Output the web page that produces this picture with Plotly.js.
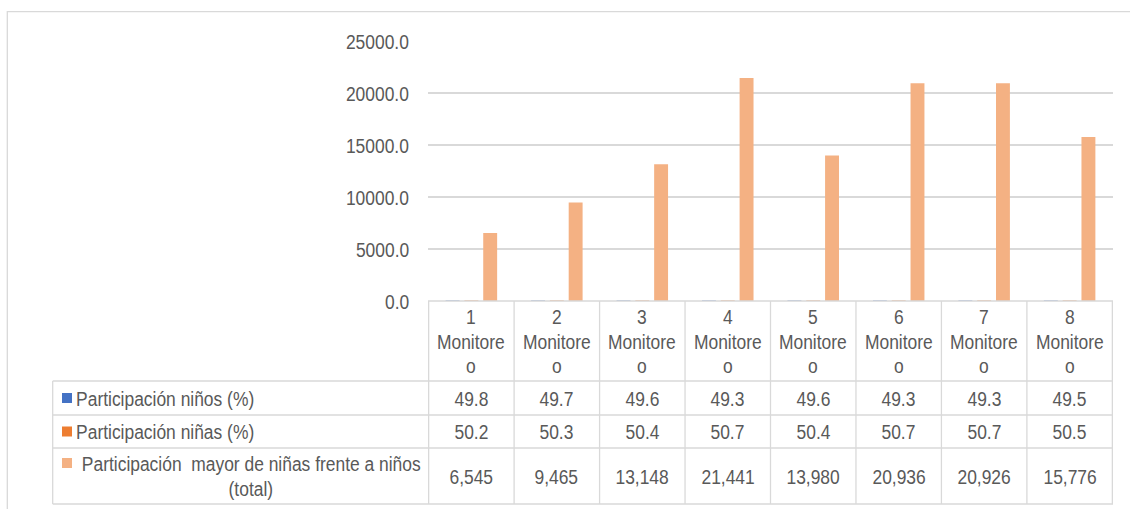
<!DOCTYPE html>
<html>
<head>
<meta charset="utf-8">
<script src="https://cdn.plot.ly/plotly-3.0.1.min.js"></script>
<style>html,body{margin:0;padding:0;background:#fff}#chart{width:1130px;height:509px}</style>
</head>
<body>
<div id="chart"></div>
<script>
const categories = ['1 Monitoreo','2 Monitoreo','3 Monitoreo','4 Monitoreo','5 Monitoreo','6 Monitoreo','7 Monitoreo','8 Monitoreo'];
const ninos = [49.8, 49.7, 49.6, 49.3, 49.6, 49.3, 49.3, 49.5];
const ninas = [50.2, 50.3, 50.4, 50.7, 50.4, 50.7, 50.7, 50.5];
const total = [6545, 9465, 13148, 21441, 13980, 20936, 20926, 15776];
const seriesNames = ['Participación niños (%)', 'Participación niñas (%)', 'Participación  mayor de niñas frente a niños (total)'];
const yTicks = [0, 5000, 10000, 15000, 20000, 25000];

const W = 1130, H = 509;
const colors = ['#4472C4', '#ED7D31', '#F4B183'];
const FONT = '"Liberation Sans", Arial, sans-serif';
const FS = 21;
const SQUISH = 0.83;
const TXT = '#595959';
const LINE = '#d9d9d9';
const px = v => v / W;
const py = v => 1 - v / H;

const plotL = 428, plotR = 1113, plotT = 41, plotB = 301;
const rowY = [381, 415, 448, 504];
const legL = 52.7;

const traces = [ninos, ninas, total].map((vals, i) => ({
  type: 'bar', x: categories, y: vals, name: seriesNames[i],
  marker: {color: colors[i]}, hoverinfo: 'skip', showlegend: false
}));

const shapes = [];
const annotations = [];
// outer chart border
shapes.push({type:'rect', xref:'paper', yref:'paper', x0:px(7.3), x1:1.02, y0:-0.02, y1:py(11.7), line:{color:LINE, width:1.3}});
// horizontal table lines
shapes.push({type:'line', xref:'paper', yref:'paper', x0:px(plotL), x1:px(plotR), y0:py(plotB), y1:py(plotB), line:{color:LINE, width:1.3}});
rowY.forEach(yv => shapes.push({type:'line', xref:'paper', yref:'paper', x0:px(legL), x1:px(plotR), y0:py(yv), y1:py(yv), line:{color:LINE, width:1.3}}));
// vertical table lines
for (let i = 0; i <= categories.length; i++) {
  shapes.push({type:'line', xref:'x', yref:'paper', x0:i-0.5, x1:i-0.5, y0:py(plotB), y1:py(rowY[3]), line:{color:LINE, width:1.3}});
}
shapes.push({type:'line', xref:'paper', yref:'paper', x0:px(legL), x1:px(legL), y0:py(rowY[0]), y1:py(rowY[3]), line:{color:LINE, width:1.3}});

const font = {family: FONT, size: FS, color: TXT};
// y tick labels
yTicks.forEach(v => {
  annotations.push({xref:'paper', yref:'y', x:px(411), y:v, text:v.toFixed(1), showarrow:false, xanchor:'right', yanchor:'middle', font});
});
// header cells
const headerLines = c => { const [n, w] = c.split(' '); return [n, w.slice(0, 8), w.slice(8)]; };
const headY = [316, 341, 365];
categories.forEach((c, i) => {
  headerLines(c).forEach((t, k) => {
    annotations.push({xref:'x', yref:'paper', x:i, y:py(headY[k]), text:t, showarrow:false, xanchor:'center', yanchor:'middle', font});
  });
});
// data rows
const rowVals = [ninos.map(v => v.toFixed(1)), ninas.map(v => v.toFixed(1)), total.map(v => v.toLocaleString('en-US'))];
rowVals.forEach((vals, r) => {
  const yc = (rowY[r] + rowY[r + 1]) / 2;
  vals.forEach((t, i) => {
    annotations.push({xref:'x', yref:'paper', x:i, y:py(yc), text:t, showarrow:false, xanchor:'center', yanchor:'middle', font});
  });
});
// legend cells
[0, 1].forEach(r => {
  const yc = (rowY[r] + rowY[r + 1]) / 2;
  shapes.push({type:'rect', xref:'paper', yref:'paper', x0:px(62), x1:px(72), y0:py(yc + 5), y1:py(yc - 5), fillcolor:colors[r], line:{width:0}});
  annotations.push({xref:'paper', yref:'paper', x:px(74), y:py(yc), text:seriesNames[r], showarrow:false, xanchor:'left', yanchor:'middle', font});
});
{
  const name = seriesNames[2];
  const cut = name.indexOf(' (total)');
  shapes.push({type:'rect', xref:'paper', yref:'paper', x0:px(62), x1:px(72), y0:py(468), y1:py(458), fillcolor:colors[2], line:{width:0}});
  annotations.push({xref:'paper', yref:'paper', x:px(251), y:py(463), text:name.slice(0, cut), showarrow:false, xanchor:'center', yanchor:'middle', font});
  annotations.push({xref:'paper', yref:'paper', x:px(251), y:py(488), text:name.slice(cut + 1), showarrow:false, xanchor:'center', yanchor:'middle', font});
}

const layout = {
  width: W, height: H,
  margin: {l:0, r:0, t:0, b:0},
  paper_bgcolor: '#fff', plot_bgcolor: '#fff',
  barmode: 'group', bargap: 0.34, bargroupgap: 0.26,
  xaxis: {domain:[px(plotL), px(plotR)], type:'category', showticklabels:false, showgrid:false, zeroline:false, showline:false, fixedrange:true},
  yaxis: {domain:[py(plotB), py(plotT)], range:[0, 25000], tickvals:yTicks, showticklabels:false, showgrid:true, gridcolor:LINE, gridwidth:1.3,
          zeroline:false, showline:false, ticks:'', fixedrange:true},
  shapes, annotations, showlegend:false
};
Plotly.newPlot('chart', traces, layout, {staticPlot:true, displayModeBar:false}).then(gd => {
  const anns = gd._fullLayout.annotations;
  gd.querySelectorAll('.annotation').forEach(g => {
    const a = anns[+g.getAttribute('data-index')];
    const t = g.querySelector('text');
    if (!a || !t) return;
    const origin = a.xanchor === 'left' ? 'left' : (a.xanchor === 'right' ? 'right' : 'center');
    t.style.transformBox = 'fill-box';
    t.style.transformOrigin = origin + ' center';
    t.style.transform = 'scaleX(' + SQUISH + ')';
  });
});
</script>
</body>
</html>
